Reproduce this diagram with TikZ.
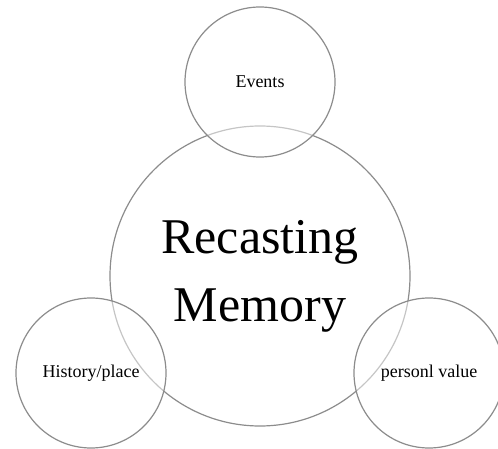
\documentclass[tikz,border=0pt]{standalone}
\usepackage{fontspec}
\setmainfont{Liberation Serif}

\begin{document}
\begin{tikzpicture}
	[x=1pt,y=-1pt,every node/.style={circle, draw=gray!90, line width=1.2pt, inner sep=0pt},
	 part/.style={minimum size=150pt, fill=white, fill opacity=.5, text opacity=1, font=\fontsize{18}{20}\selectfont}]
	\useasboundingbox (0,0) rectangle (498,449);
	\node[minimum size=300pt, align=center, font=\fontsize{50}{68}\selectfont] (memory) at (260,276) {Recasting\\Memory};
	\node[part] (events) at (260,82) {Events};
	\node[part] (history) at (91,373) {History/place};
	\node[part] (value) at (429,373) {personl value};
\end{tikzpicture}
\end{document}
